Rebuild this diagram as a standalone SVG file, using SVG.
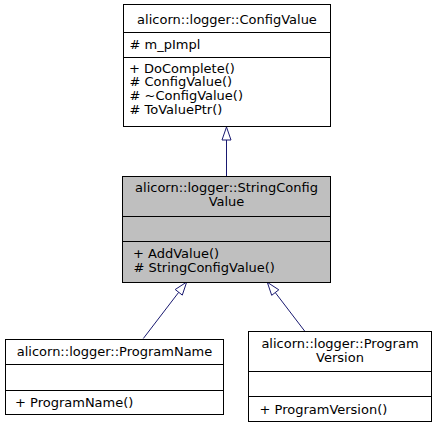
<svg xmlns="http://www.w3.org/2000/svg" width="436" height="429" viewBox="0 0 436 429" xml:space="preserve">
<style>
.box{fill:#ffffff;stroke:#000000;stroke-width:1}
.cur{fill:#bfbfbf;stroke:#000000;stroke-width:1}
.sep{stroke:#000000;stroke-width:1}
text{font-family:"DejaVu Sans",Verdana,sans-serif;font-size:13px;fill:#000000;white-space:pre}
.c{text-anchor:middle}
.edge{stroke:#191970;stroke-width:1;fill:none}
.head{stroke:#191970;stroke-width:1;fill:#ffffff}
</style>
<rect width="436" height="429" fill="#ffffff"/>
<g id="connectors">
<line class="edge" x1="226.5" y1="176.5" x2="226.5" y2="140"/>
<polygon class="head" points="226.5,127 222,140 231,140"/>
<line class="edge" x1="143.3" y1="338.5" x2="178.7" y2="292.3"/>
<polygon class="head" points="186.7,282 182.3,295.1 175.2,289.5"/>
<line class="edge" x1="305" y1="331.5" x2="275.3" y2="292.6"/>
<polygon class="head" points="267.3,282.3 271.7,295.3 278.8,289.8"/>
</g>
<g id="ConfigValue">
<rect class="box" x="123.5" y="4.5" width="207" height="122"/>
<line class="sep" x1="123.5" y1="32.5" x2="330.5" y2="32.5"/>
<line class="sep" x1="123.5" y1="57.5" x2="330.5" y2="57.5"/>
<text class="c" x="227" y="23.5">alicorn::logger::ConfigValue</text>
<text x="129.5" y="49"># m_pImpl</text>
<text x="129" y="72.5">+ DoComplete()</text>
<text x="129.5" y="86"># ConfigValue()</text>
<text x="129.5" y="100"># ~ConfigValue()</text>
<text x="129.5" y="113.5"># ToValuePtr()</text>
</g>
<g id="StringConfigValue">
<rect class="cur" x="122.5" y="176.5" width="208" height="106"/>
<line class="sep" x1="122.5" y1="216.5" x2="330.5" y2="216.5"/>
<line class="sep" x1="122.5" y1="241.5" x2="330.5" y2="241.5"/>
<text class="c" x="226.5" y="192.3">alicorn::logger::StringConfig</text>
<text class="c" x="226.5" y="206">Value</text>
<text x="133" y="257.7">+ AddValue()</text>
<text x="133.5" y="271.5"># StringConfigValue()</text>
</g>
<g id="ProgramName">
<rect class="box" x="5.5" y="339.5" width="218" height="75"/>
<line class="sep" x1="5.5" y1="364.5" x2="223.5" y2="364.5"/>
<line class="sep" x1="5.5" y1="390.5" x2="223.5" y2="390.5"/>
<text class="c" x="114.5" y="355.5">alicorn::logger::ProgramName</text>
<text x="15" y="406.5">+ ProgramName()</text>
</g>
<g id="ProgramVersion">
<rect class="box" x="248.5" y="331.5" width="183" height="90"/>
<line class="sep" x1="248.5" y1="371.5" x2="431.5" y2="371.5"/>
<line class="sep" x1="248.5" y1="396.5" x2="431.5" y2="396.5"/>
<text class="c" x="340" y="348">alicorn::logger::Program</text>
<text class="c" x="340" y="362">Version</text>
<text x="259.5" y="413.5">+ ProgramVersion()</text>
</g>
</svg>
